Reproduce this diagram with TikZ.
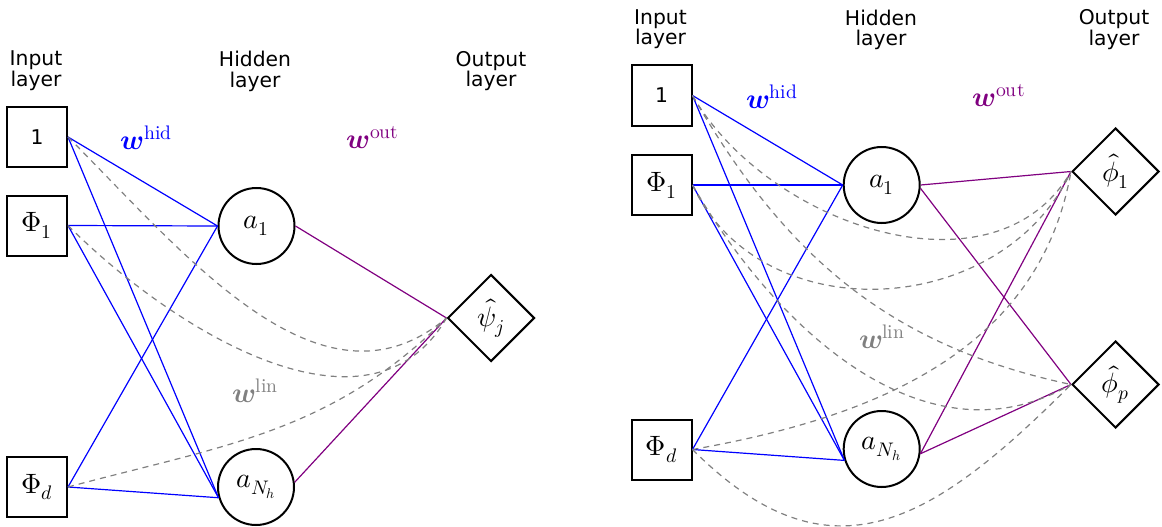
\documentclass[tikz,border=0pt]{standalone}
\usepackage{amsmath}
\usepackage{fontspec}
\usepackage{unicode-math}
\setmainfont{DejaVu Sans}
\setmathfont{Latin Modern Math}
\usetikzlibrary{shapes.geometric}
\definecolor{hidblue}{RGB}{0,0,255}
\definecolor{outpurple}{RGB}{128,0,128}
\definecolor{lingray}{RGB}{128,128,128}
\newcommand\mfont{\fontsize{28}{32}\selectfont}
\newcommand\lfont{\fontsize{20.3}{20.5}\selectfont}
\begin{document}
\begin{tikzpicture}[x=1pt,y=1pt,
  inbox/.style={draw, line width=2pt, rectangle, minimum size=60pt, inner sep=0pt, font=\mfont},
  hidnode/.style={draw, line width=2pt, circle, minimum size=76pt, inner sep=0pt, font=\mfont},
  outnode/.style={draw, line width=2pt, diamond, aspect=1, minimum width=87pt, minimum height=87pt, inner sep=0pt, font=\mfont},
  layerlabel/.style={anchor=north, align=center, inner sep=0pt, font=\lfont},
  wlabel/.style={inner sep=0pt, font=\mfont},
  hidline/.style={draw=hidblue, line width=1.2pt},
  outline/.style={draw=outpurple, line width=1.2pt},
  linline/.style={draw=lingray, line width=1.2pt, dash pattern=on 6pt off 5pt},
]
\useasboundingbox (0,0) rectangle (1162,-527);

% ---------------- left network ----------------
\node[layerlabel] (Llin) at (36,-51) {Input\\layer};
\node[layerlabel] (Llhid) at (255,-51) {Hidden\\layer};
\node[layerlabel] (Llout) at (491,-51) {Output\\layer};

\node[inbox] (L1) at (37,-137) {\lfont 1};
\node[inbox] (LP1) at (37,-225.5) {$\Phi_1$};
\node[inbox] (LPd) at (37,-487) {$\Phi_d$};
\node[hidnode] (La1) at (256.5,-226) {$a_1$};
\node[hidnode] (LaN) at (256,-487) {$a_{N_h}$};
\node[outnode] (Lpsi) at (491,-318) {$\hat{\psi}_j$};

\node[wlabel, text=hidblue] (Lwh) at (146.5,-137.5) {$\symbfit{w}^{\symup{hid}}$};
\node[wlabel, text=outpurple] (Lwo) at (373,-137.5) {$\symbfit{w}^{\symup{out}}$};
\node[wlabel, text=lingray] (Lwl) at (255.5,-390.5) {$\symbfit{w}^{\symup{lin}}$};

\draw[hidline] (L1.east) -- (La1.west);
\draw[hidline] (L1.east) -- (LaN.196);
\draw[hidline] (LP1.east) -- (La1.west);
\draw[hidline] (LP1.east) -- (LaN.196);
\draw[hidline] (LPd.east) -- (La1.west);
\draw[hidline] (LPd.east) -- (LaN.196);

\draw[outline] (La1.east) -- (Lpsi.west);
\draw[outline] (LaN.7) -- (Lpsi.west);

\draw[linline] (L1.east) to[out=-45,in=-140] (Lpsi.west);
\draw[linline] (LP1.east) to[out=-45,in=-120] (Lpsi.west);
\draw[linline] (LPd.east) to[out=15,in=-135] (Lpsi.west);

% ---------------- right network ----------------
\node[layerlabel] (Rlin) at (660.5,-9.5) {Input\\layer};
\node[layerlabel] (Rlhid) at (881,-9.5) {Hidden\\layer};
\node[layerlabel] (Rlout) at (1114,-9.5) {Output\\layer};

\node[inbox] (R1) at (661.5,-95.5) {\lfont 1};
\node[inbox] (RP1) at (661.5,-185) {$\Phi_1$};
\node[inbox] (RPd) at (661.5,-449.5) {$\Phi_d$};
\node[hidnode] (Ra1) at (881.7,-185) {$a_1$};
\node[hidnode] (RaN) at (881.7,-449) {$a_{N_h}$};
\node[outnode] (Rphi1) at (1115.5,-171.5) {$\hat{\phi}_1$};
\node[outnode] (Rphip) at (1115.5,-384.5) {$\hat{\phi}_p$};

\node[wlabel, text=hidblue] (Rwh) at (772,-97) {$\symbfit{w}^{\symup{hid}}$};
\node[wlabel, text=outpurple] (Rwo) at (999,-96) {$\symbfit{w}^{\symup{out}}$};
\node[wlabel, text=lingray] (Rwl) at (882,-337) {$\symbfit{w}^{\symup{lin}}$};

\draw[hidline] (R1.east) -- (Ra1.west);
\draw[hidline] (R1.east) -- (RaN.197);
\draw[hidline] (RP1.east) -- (Ra1.west);
\draw[hidline] (RP1.east) -- (RaN.197);
\draw[hidline] (RPd.east) -- (Ra1.west);
\draw[hidline] (RPd.east) -- (RaN.197);

\draw[outline] (Ra1.east) -- (Rphi1.west);
\draw[outline] (Ra1.-5) -- (Rphip.west);
\draw[outline] (RaN.-7) -- (Rphi1.west);
\draw[outline] (RaN.-7) -- (Rphip.west);

\draw[linline] (R1.east) to[out=-60,in=-120] (Rphi1.west);
\draw[linline] (RP1.east) to[out=-65,in=-115,looseness=1.1] (Rphi1.west);
\draw[linline] (R1.east) to[out=-60,in=168] (Rphip.west);
\draw[linline] (RP1.east) to[out=-60,in=-150] (Rphip.west);
\draw[linline] (RPd.east) to[out=10,in=-100] (Rphi1.west);
\draw[linline] (RPd.east) to[out=-45,in=-135,looseness=1.3] (Rphip.west);
\end{tikzpicture}
\end{document}
